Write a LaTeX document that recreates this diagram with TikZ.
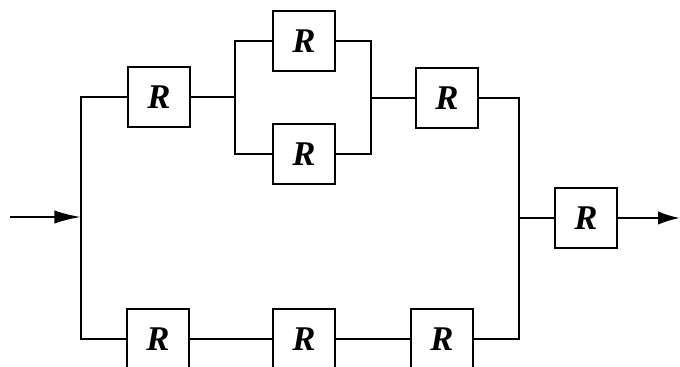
\documentclass[tikz,border=0pt]{standalone}
\usepackage{fontspec}
\setmainfont{Liberation Serif}
\usetikzlibrary{arrows.meta}
\tikzset{rbox/.style={draw=black,line width=3.4pt,minimum width=93pt,minimum height=91pt,inner sep=0pt,font=\fontsize{52}{52}\selectfont\itshape\bfseries,text=black},
wire/.style={draw=black,line width=3.4pt},
arrL/.style={wire,-{Latex[length=40pt,width=20pt]}},
arrR/.style={wire,-{Latex[length=33pt,width=20pt]}}}
\begin{document}
\begin{tikzpicture}[x=1.5pt,y=-1.5pt]
\useasboundingbox (0,0) rectangle (680,367);
\node[rbox] (a) at (159,97) {R};
\node[rbox] (b) at (304,41) {R};
\node[rbox] (c) at (304,154) {R};
\node[rbox] (d) at (447,98) {R};
\node[rbox] (e) at (158,339) {R};
\node[rbox] (f) at (304,339) {R};
\node[rbox] (g) at (442,339) {R};
\node[rbox] (h) at (586,218) {R};
\coordinate (in) at (10,217);
\coordinate (j) at (81,217);
\coordinate (s1) at (235,97);
\coordinate (s2) at (371,98);
\coordinate (m) at (519,218);
\coordinate (out) at (680,218);
\draw[arrL] (in) -- (j);
\draw[wire] (a.west) -| (j) |- (e.west);
\draw[wire] (a) -- (s1);
\draw[wire] (b.west) -| (s1) |- (c.west);
\draw[wire] (b.east) -| (s2) |- (c.east);
\draw[wire] (s2) -- (d);
\draw[wire] (d.east) -| (m) |- (g.east);
\draw[wire] (e) -- (f);
\draw[wire] (f) -- (g);
\draw[wire] (m) -- (h);
\draw[arrR] (h.east) -- (out);
\end{tikzpicture}
\end{document}
